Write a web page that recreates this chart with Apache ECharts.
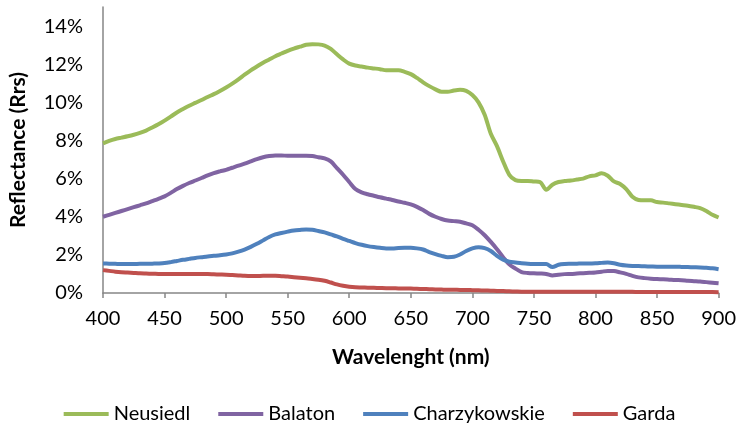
<!DOCTYPE html>
<html>
<head>
<meta charset="utf-8">
<script src="https://cdn.jsdelivr.net/npm/echarts@6/dist/echarts.min.js"></script>
<style>
  html, body { margin: 0; padding: 0; background: #fff; }
  #chart { width: 739px; height: 424px; }
</style>
</head>
<body>
<div id="chart"></div>
<script>
// Wavelength samples (nm), 5 nm step
const wavelengths = [];
for (let w = 400; w <= 900; w += 5) wavelengths.push(w);

// Remote-sensing reflectance, in percent
const neusiedl = [
  7.85, 7.98, 8.08, 8.15, 8.22, 8.30, 8.40, 8.52, 8.68, 8.85,
  9.04, 9.25, 9.47, 9.65, 9.82, 9.97, 10.12, 10.28, 10.43, 10.60,
  10.78, 10.98, 11.20, 11.45, 11.68, 11.88, 12.08, 12.25, 12.42, 12.56,
  12.70, 12.82, 12.92, 13.02, 13.05, 13.04, 12.98, 12.80, 12.52, 12.25,
  12.03, 11.93, 11.88, 11.82, 11.78, 11.74, 11.68, 11.68, 11.68, 11.60,
  11.48, 11.28, 11.05, 10.85, 10.68, 10.55, 10.55, 10.62, 10.66, 10.60,
  10.38, 10.00, 9.35, 8.35, 7.70, 6.90, 6.20, 5.92, 5.88, 5.88,
  5.85, 5.82, 5.42, 5.68, 5.82, 5.87, 5.90, 5.95, 6.00, 6.12,
  6.17, 6.28, 6.15, 5.85, 5.72, 5.45, 5.05, 4.88, 4.86, 4.86,
  4.77, 4.74, 4.70, 4.66, 4.62, 4.58, 4.52, 4.45, 4.30, 4.10,
  3.96
];
const balaton = [
  4.00, 4.10, 4.20, 4.30, 4.40, 4.50, 4.60, 4.70, 4.82, 4.94,
  5.07, 5.25, 5.45, 5.62, 5.77, 5.90, 6.03, 6.17, 6.29, 6.38,
  6.46, 6.57, 6.68, 6.78, 6.90, 7.02, 7.12, 7.18, 7.21, 7.21,
  7.20, 7.20, 7.20, 7.20, 7.18, 7.12, 7.06, 6.90, 6.55, 6.20,
  5.82, 5.45, 5.28, 5.18, 5.10, 5.02, 4.95, 4.88, 4.80, 4.73,
  4.65, 4.52, 4.35, 4.15, 4.00, 3.88, 3.80, 3.77, 3.74, 3.65,
  3.55, 3.32, 3.03, 2.68, 2.30, 1.88, 1.50, 1.28, 1.10, 1.05,
  1.03, 1.02, 1.00, 0.92, 0.96, 0.99, 1.00, 1.02, 1.04, 1.06,
  1.08, 1.12, 1.16, 1.15, 1.08, 1.00, 0.90, 0.82, 0.78, 0.75,
  0.73, 0.72, 0.70, 0.68, 0.67, 0.64, 0.62, 0.60, 0.57, 0.54,
  0.51
];
const charzykowskie = [
  1.55, 1.54, 1.53, 1.52, 1.52, 1.52, 1.53, 1.53, 1.54, 1.55,
  1.57, 1.62, 1.68, 1.74, 1.79, 1.84, 1.88, 1.92, 1.95, 1.98,
  2.02, 2.08, 2.17, 2.28, 2.42, 2.58, 2.76, 2.94, 3.07, 3.15,
  3.22, 3.28, 3.31, 3.33, 3.32, 3.25, 3.18, 3.07, 2.97, 2.84,
  2.73, 2.62, 2.53, 2.46, 2.41, 2.37, 2.34, 2.34, 2.36, 2.37,
  2.37, 2.34, 2.28, 2.15, 2.04, 1.95, 1.88, 1.90, 2.02, 2.20,
  2.34, 2.40, 2.35, 2.20, 1.95, 1.75, 1.64, 1.60, 1.56, 1.53,
  1.52, 1.52, 1.52, 1.36, 1.48, 1.52, 1.53, 1.54, 1.55, 1.55,
  1.56, 1.58, 1.60, 1.56, 1.48, 1.44, 1.42, 1.41, 1.40, 1.39,
  1.38, 1.38, 1.38, 1.38, 1.37, 1.36, 1.35, 1.34, 1.32, 1.30,
  1.25
];
const garda = [
  1.20, 1.16, 1.12, 1.09, 1.07, 1.05, 1.03, 1.02, 1.01, 1.00,
  0.99, 0.99, 0.99, 0.99, 0.99, 0.99, 0.99, 0.99, 0.98, 0.97,
  0.96, 0.94, 0.92, 0.90, 0.89, 0.89, 0.90, 0.90, 0.90, 0.88,
  0.86, 0.83, 0.80, 0.77, 0.74, 0.70, 0.64, 0.55, 0.45, 0.38,
  0.33, 0.30, 0.29, 0.28, 0.27, 0.26, 0.25, 0.25, 0.24, 0.24,
  0.23, 0.22, 0.21, 0.20, 0.19, 0.18, 0.17, 0.17, 0.16, 0.16,
  0.15, 0.14, 0.13, 0.12, 0.11, 0.10, 0.09, 0.08, 0.07, 0.07,
  0.07, 0.07, 0.07, 0.07, 0.07, 0.06, 0.06, 0.06, 0.06, 0.06,
  0.06, 0.06, 0.06, 0.06, 0.06, 0.06, 0.06, 0.05, 0.05, 0.05,
  0.05, 0.05, 0.05, 0.05, 0.05, 0.05, 0.05, 0.05, 0.05, 0.05,
  0.04
];

const seriesNames = ['Neusiedl', 'Balaton', 'Charzykowskie', 'Garda'];
const seriesValues = [neusiedl, balaton, charzykowskie, garda];
const seriesColors = ['#9BBB59', '#8064A2', '#4F81BD', '#C0504D'];

const FONT = 'Lato, "Open Sans", sans-serif';
const axisGray = '#868686';

const chart = echarts.init(document.getElementById('chart'), null, { renderer: 'canvas' });

chart.setOption({
  animation: false,
  backgroundColor: '#fff',
  grid: { left: 100, right: 19, top: 7, bottom: 131 },
  legend: {
    top: 399,
    left: 'center',
    icon: 'rect',
    itemWidth: 45,
    itemHeight: 4,
    itemGap: 28,
    textStyle: { fontFamily: FONT, fontSize: 20, color: '#000' },
    data: seriesNames
  },
  xAxis: {
    type: 'value',
    min: 400,
    max: 900,
    interval: 50,
    name: 'Wavelenght (nm)',
    nameLocation: 'middle',
    nameGap: 54,
    nameTextStyle: { fontFamily: FONT, fontSize: 21, fontWeight: 'bold', color: '#000' },
    axisLine: { lineStyle: { color: axisGray, width: 1.5 } },
    axisTick: { show: true, length: 5, inside: false, lineStyle: { color: axisGray, width: 1.5 } },
    axisLabel: { fontFamily: FONT, fontSize: 20, color: '#000', margin: 16 },
    splitLine: { show: false }
  },
  yAxis: {
    type: 'value',
    min: 0,
    max: 15,
    interval: 2,
    name: 'Reflectance (Rrs)',
    nameLocation: 'middle',
    nameRotate: 90,
    nameGap: 74,
    nameTextStyle: { fontFamily: FONT, fontSize: 21, fontWeight: 'bold', color: '#000' },
    axisLine: { show: true, lineStyle: { color: axisGray, width: 1.5 } },
    axisTick: { show: false },
    axisLabel: {
      fontFamily: FONT, fontSize: 20, color: '#000', margin: 20,
      formatter: v => (v > 14.5 ? '' : v + '%')
    },
    splitLine: { show: false }
  },
  series: seriesNames.map((name, i) => ({
    name,
    type: 'line',
    showSymbol: false,
    symbol: 'none',
    smooth: 0.3,
    color: seriesColors[i],
    lineStyle: { width: 4, color: seriesColors[i] },
    data: wavelengths.map((w, k) => [w, seriesValues[i][k]])
  }))
});
</script>
</body>
</html>
